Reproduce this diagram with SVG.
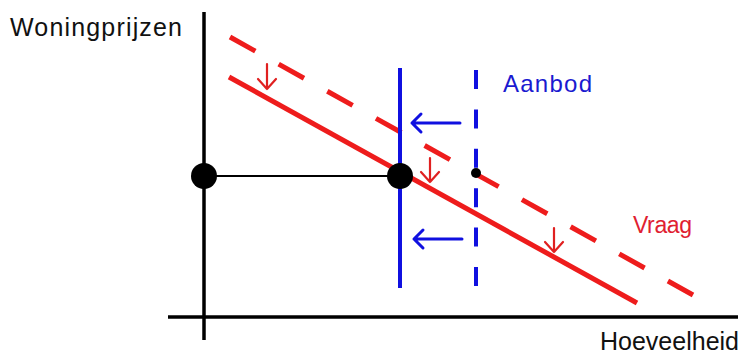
<svg xmlns="http://www.w3.org/2000/svg" width="743" height="355" viewBox="0 0 743 355">
<style>
text{font-family:"Liberation Sans",Arial,sans-serif}
.axis{stroke:#000;stroke-width:3.5;fill:none}
.red{stroke:#ee1c1c;stroke-width:5;fill:none;stroke-linecap:butt}
.blue{stroke:#1010e0;stroke-width:4;fill:none}
.rarr{stroke:#e02020;stroke-width:2.2;fill:none;stroke-linecap:round;stroke-linejoin:round}
.barr{stroke:#1010e0;stroke-width:3;fill:none;stroke-linecap:round;stroke-linejoin:round}
</style>
<rect width="743" height="355" fill="#fff"/>
<g id="axes">
<line class="axis" x1="204" y1="12" x2="204" y2="340"/>
<line class="axis" x1="168" y1="317" x2="738" y2="317"/>
<text x="10" y="36" font-size="25" textLength="172" fill="#111">Woningprijzen</text>
<text x="600" y="350" font-size="25" textLength="139" fill="#111">Hoeveelheid</text>
</g>
<g id="connectors">
<line x1="204" y1="176" x2="400" y2="176" stroke="#000" stroke-width="2"/>
<line class="red" x1="229" y1="77" x2="637" y2="303"/>
<line class="red" x1="230" y1="37" x2="693" y2="295" stroke-dasharray="29 26.7"/>
<line class="blue" x1="400" y1="68" x2="400" y2="288"/>
<line class="blue" x1="476" y1="70" x2="476" y2="286" stroke-width="4.5" stroke-dasharray="19 20.4"/>
<path class="barr" d="M460 123H412M421 114L412 123L421 132"/>
<path class="barr" d="M462 239H414M423 230L414 239L423 248"/>
<path class="rarr" d="M267 64V89M258 79L267 89L276 79"/>
<path class="rarr" d="M430 158V182M421 172L430 182L439 172"/>
<path class="rarr" d="M554 228V252M545 242L554 252L563 242"/>
</g>
<g id="node-price"><circle cx="204" cy="176" r="13" fill="#000"/></g>
<g id="node-equilibrium"><circle cx="400" cy="176" r="13" fill="#000"/></g>
<g id="node-old"><circle cx="476" cy="173" r="5" fill="#000"/></g>
<g id="label-aanbod"><text x="503" y="92" font-size="24" textLength="89" fill="#1a1ad0">Aanbod</text></g>
<g id="label-vraag"><text x="633" y="233" font-size="23" textLength="59" fill="#e02030">Vraag</text></g>
</svg>
